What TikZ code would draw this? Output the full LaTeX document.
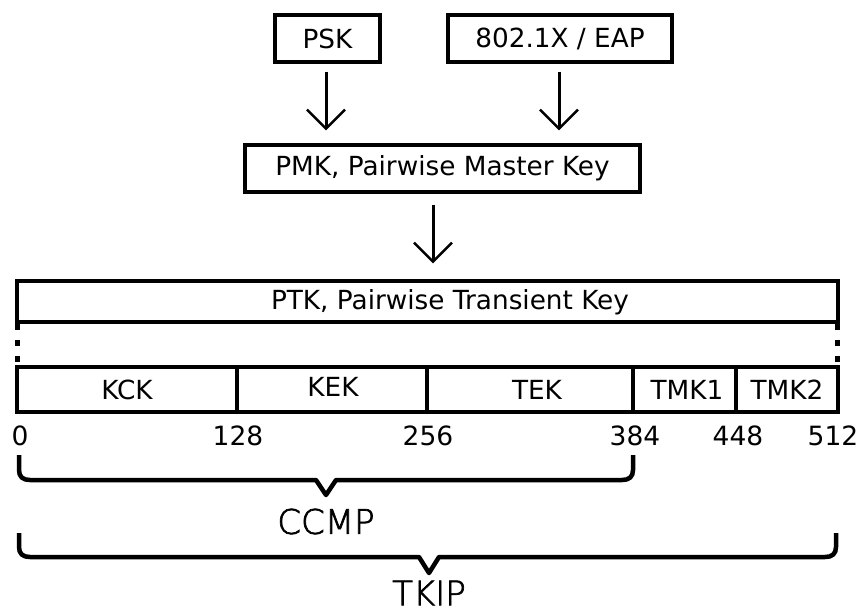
\documentclass[tikz,border=0pt]{standalone}
\usepackage{fontspec}
\setmainfont{DejaVu Sans}
\IfFontExistsTF{DejaVu Sans ExtraLight}{\newfontfamily\thinfont[FakeBold=2]{DejaVu Sans ExtraLight}}{\newfontfamily\thinfont{DejaVu Sans}}
\usetikzlibrary{arrows.meta}
\begin{document}
\begin{tikzpicture}[x=1pt,y=-1pt,
  boxtext/.style={font=\fontsize{26.3}{31}\selectfont},
  keybox/.style={draw, line width=3.4pt, inner sep=0pt, boxtext},
  numtext/.style={font=\fontsize{26.5}{31}\selectfont, inner sep=0pt},
  bigtext/.style={font=\thinfont\fontsize{34}{40}\selectfont, inner sep=0pt},
  flow/.style={line width=3pt, -{Straight Barb[length=19pt,width=38pt,line width=2.5pt]}},
  dotline/.style={line width=5pt, dash pattern=on 6pt off 10pt},
  brace/.style={line width=4.5pt, line join=round}]
\useasboundingbox (0,0) rectangle (858,614);

% top boxes
\node[keybox, minimum width=105pt, minimum height=47pt] (psk) at (327.5,38.5) {PSK};
\node[keybox, minimum width=224pt, minimum height=47pt] (eap) at (560,38.5) {802.1X / EAP};
\node[keybox, minimum width=395pt, minimum height=47pt] (pmk) at (442.5,168.5) {PMK, Pairwise Master Key};

% PTK
\node[keybox, minimum width=821pt, minimum height=41pt] (ptk) at (427.5,301.5) {};
\node[boxtext, inner sep=0pt] (ptktext) at (450,302) {PTK, Pairwise Transient Key};

% key row
\node[keybox, minimum width=220pt, minimum height=45pt] (kck) at (127,389.5) {KCK};
\node[keybox, minimum width=190pt, minimum height=45pt] (kek) at (332,389.5) {};
\node[boxtext, inner sep=0pt] (kektext) at (333,387) {KEK};
\node[keybox, minimum width=206pt, minimum height=45pt] (tek) at (530,389.5) {};
\node[boxtext, inner sep=0pt] (tektext) at (537,389.5) {TEK};
\node[keybox, minimum width=103pt, minimum height=45pt] (tmka) at (684.5,389.5) {};
\node[boxtext, inner sep=0pt] (tmkatext) at (687,390) {TMK1};
\node[keybox, minimum width=102pt, minimum height=45pt] (tmkb) at (787,389.5) {TMK2};

% arrows
\draw[flow] ([xshift=-1.5pt,yshift=-8pt]psk.south) -- ([xshift=-116.5pt,yshift=13pt]pmk.north);
\draw[flow] ([xshift=-1pt,yshift=-8pt]eap.south) -- ([xshift=116.5pt,yshift=13pt]pmk.north);
\draw[flow] ([xshift=-9.5pt,yshift=-11pt]pmk.south) -- ([xshift=5.5pt,yshift=16pt]ptk.north);

% dotted connectors
\draw[dotline] ([xshift=2.5pt]ptk.south west) -- ([xshift=2.5pt]kck.north west);
\draw[dotline] ([xshift=-2pt]ptk.south east) -- ([xshift=-2pt]tmkb.north east);

% bit offsets
\node[numtext] (n0) at (20,436) {0};
\node[numtext] (n128) at (238,436) {128};
\node[numtext] (n256) at (428,436) {256};
\node[numtext] (n384) at (635,436) {384};
\node[numtext] (n448) at (738,436) {448};
\node[numtext] (n512) at (833,436) {512};

% braces
\draw[brace] (19,455) -- (19,470) .. controls (19,477) and (23,480) .. (30,480)
  -- (316,480) -- (326,495) -- (336,480) -- (622,480)
  .. controls (629,480) and (633,477) .. (633,470) -- (633,455);
\node[bigtext] (ccmp) at (326,521.5) {CCMP};

\draw[brace] (19,533) -- (19,547) .. controls (19,554) and (23,557) .. (30,557)
  -- (419,557) -- (429,573) -- (439,557) -- (825,557)
  .. controls (832,557) and (836,554) .. (836,547) -- (836,533);
\node[bigtext] (tkip) at (429,593) {TKIP};
\end{tikzpicture}
\end{document}
